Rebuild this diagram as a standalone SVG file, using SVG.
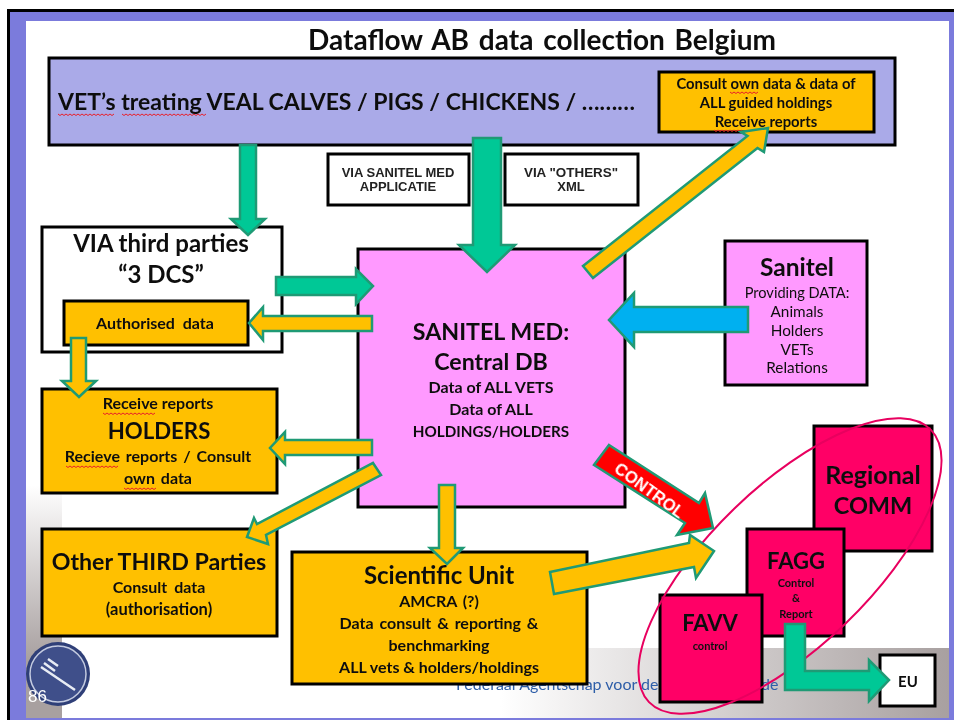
<svg xmlns="http://www.w3.org/2000/svg" width="954" height="720" viewBox="0 0 954 720">
<style>
text{font-family:Lato,"Open Sans","Liberation Sans",sans-serif;fill:#111;text-anchor:middle;font-weight:700;filter:url(#soft)}
.box{stroke:#000;stroke-width:3}
.o{fill:#ffc000}.p{fill:#ff99ff}.m{fill:#ff0066}.w{fill:#fff}
.s{font-size:16px}.b{font-size:24px}
.a{stroke:#1f9a75;stroke-width:2.5;stroke-linejoin:miter}
.g{fill:#00c896}
.sq{fill:none;stroke:#e8202a;stroke-width:1}
.v{font-family:"Liberation Sans",sans-serif;font-size:13px;fill:#222}
.r{font-size:15.300px;font-weight:400}
</style>
<defs>
<filter id="soft" x="-5%" y="-20%" width="110%" height="140%"><feGaussianBlur stdDeviation="0.35"/></filter>
<linearGradient id="gv" x1="0" y1="0" x2="0" y2="1"><stop offset="0" stop-color="#fff"/><stop offset="1" stop-color="#a8a0a0"/></linearGradient>
<linearGradient id="gh" x1="0" y1="0" x2="1" y2="0"><stop offset="0" stop-color="#fff"/><stop offset="1" stop-color="#a8a0a0"/></linearGradient>
</defs>
<rect width="954" height="720" fill="#fff"/>
<rect x="9" y="11" width="945" height="709" fill="#7b7bdc"/>
<path d="M8.500 720V10.500H954" fill="none" stroke="#000" stroke-width="3"/>
<rect x="26" y="21" width="923" height="697" fill="#fff"/>
<rect x="26" y="485" width="36" height="175" fill="url(#gv)"/>
<rect x="26" y="660" width="36" height="58" fill="#a8a0a0"/>
<rect x="500" y="648" width="449" height="70" fill="url(#gh)"/>
<g id="logo">
<circle cx="58" cy="674" r="32" fill="#2f3f78"/>
<circle cx="58" cy="674" r="28" fill="#3f4f8a" stroke="#c4cbe0" stroke-width="1.500"/>
<path d="M41 667L75 690M44 663L55 671M48 659L58 666" stroke="#e8ecf4" stroke-width="2.500" fill="none"/>
<text x="28" y="702" style="font-family:'Liberation Sans',sans-serif;font-size:17px;font-weight:400;fill:#fff;text-anchor:start">86</text>
</g>
<g id="footer">
<text x="456" y="690" style="font-size:16px;font-weight:400;fill:#2f5ea8;text-anchor:start">Federaal Agentschap voor de</text>
<text x="761" y="690" style="font-size:16px;font-weight:400;fill:#2f5ea8;text-anchor:start">de</text>
</g>
<text id="title" x="542" y="50" style="font-size:28px;word-spacing:3px">Dataflow AB data collection Belgium</text>
<g id="vets">
<rect class="box" x="49" y="58" width="846" height="87" fill="#aaaae8"/>
<text x="58" y="110" style="font-size:23px;text-anchor:start">VET’s treating VEAL CALVES / PIGS / CHICKENS / ………</text>
<path class="sq" d="M58 114l2 1.500 2-1.500 2 1.500 2-1.500 2 1.500 2-1.500 2 1.500 2-1.500 2 1.500 2-1.500 2 1.500 2-1.500 2 1.500 2-1.500 2 1.500 2-1.500 2 1.500 2-1.500 2 1.500 2-1.500 2 1.500 2-1.500 2 1.500 2-1.500 2 1.500 2-1.500 2 1.500 2-1.500M122 114l2 1.500 2-1.500 2 1.500 2-1.500 2 1.500 2-1.500 2 1.500 2-1.500 2 1.500 2-1.500 2 1.500 2-1.500 2 1.500 2-1.500 2 1.500 2-1.500 2 1.500 2-1.500 2 1.500 2-1.500 2 1.500 2-1.500 2 1.500 2-1.500 2 1.500 2-1.500 2 1.500 2-1.500 2 1.500 2-1.500 2 1.500 2-1.500 2 1.500 2-1.500 2 1.500 2-1.500 2 1.500 2-1.500 2 1.500 2-1.500 2 1.500 2-1.500"/>
</g>
<g id="consult">
<rect class="box o" x="659" y="72" width="215" height="60"/>
<text x="766" y="89" style="font-size:14.800px">Consult own data &amp; data of</text>
<text x="766" y="108" style="font-size:14.800px">ALL guided holdings</text>
<text x="766" y="127" style="font-size:14.800px">Receive reports</text>
<path class="sq" d="M730 92l2 1.500 2-1.500 2 1.500 2-1.500 2 1.500 2-1.500 2 1.500 2-1.500 2 1.500 2-1.500 2 1.500 2-1.500 2 1.500 2-1.500M714 130l2 1.500 2-1.500 2 1.500 2-1.500 2 1.500 2-1.500 2 1.500 2-1.500 2 1.500 2-1.500 2 1.500 2-1.500 2 1.500 2-1.500"/>
</g>
<g id="via-sanitel">
<rect class="box w" x="328" y="154" width="141" height="51"/>
<text class="v" x="398" y="177">VIA SANITEL MED</text><text class="v" x="398" y="191">APPLICATIE</text>
</g>
<g id="via-others">
<rect class="box w" x="505" y="154" width="133" height="51"/>
<text class="v" x="571" y="177" style="font-size:13.400px">VIA "OTHERS"</text><text class="v" x="571" y="191">XML</text>
</g>
<g id="third-parties">
<rect class="box w" x="42" y="227" width="240" height="125"/>
<text class="b" x="161" y="252">VIA third parties</text>
<text class="b" x="161" y="283">“3 DCS”</text>
</g>
<g id="authorised">
<rect class="box o" x="64" y="301" width="184" height="44"/>
<text class="s" x="155" y="329" style="word-spacing:4px">Authorised data</text>
</g>
<g id="central">
<rect class="box p" x="358" y="249" width="267" height="258"/>
<text x="491" y="340" style="font-size:23.200px">SANITEL MED:</text>
<text x="491" y="370" style="font-size:23.200px">Central DB</text>
<text class="s" x="491" y="393">Data of ALL VETS</text>
<text class="s" x="491" y="415">Data of ALL</text>
<text x="491" y="437" style="font-size:15.200px">HOLDINGS/HOLDERS</text>
</g>
<g id="sanitel">
<rect class="box p" x="725" y="241" width="142" height="144"/>
<text x="797" y="276" style="font-size:24.500px">Sanitel</text>
<text x="797" y="298" style="font-size:14.600px;font-weight:400">Providing DATA:</text>
<text class="r" x="797" y="317">Animals</text>
<text class="r" x="797" y="336">Holders</text>
<text class="r" x="797" y="355">VETs</text>
<text class="r" x="797" y="373">Relations</text>
</g>
<g id="holders">
<rect class="box o" x="42" y="389" width="235" height="104"/>
<text class="s" x="158" y="409">Receive reports</text>
<text x="159" y="439" style="font-size:22.200px">HOLDERS</text>
<text class="s" x="158" y="462" style="word-spacing:2px">Recieve reports / Consult</text>
<text class="s" x="158" y="484" style="word-spacing:2px">own data</text>
<path class="sq" d="M103 413l2 1.500 2-1.500 2 1.500 2-1.500 2 1.500 2-1.500 2 1.500 2-1.500 2 1.500 2-1.500 2 1.500 2-1.500 2 1.500 2-1.500 2 1.500 2-1.500 2 1.500 2-1.500 2 1.500 2-1.500 2 1.500 2-1.500 2 1.500 2-1.500 2 1.500 2-1.500M66 466l2 1.500 2-1.500 2 1.500 2-1.500 2 1.500 2-1.500 2 1.500 2-1.500 2 1.500 2-1.500 2 1.500 2-1.500 2 1.500 2-1.500 2 1.500 2-1.500 2 1.500 2-1.500 2 1.500 2-1.500 2 1.500 2-1.500 2 1.500 2-1.500 2 1.500 2-1.500M124 488l2 1.500 2-1.500 2 1.500 2-1.500 2 1.500 2-1.500 2 1.500 2-1.500 2 1.500 2-1.500 2 1.500 2-1.500 2 1.500 2-1.500 2 1.500 2-1.500"/>
</g>
<g id="other-third">
<rect class="box o" x="42" y="529" width="235" height="107"/>
<text x="159" y="570" style="font-size:23.200px">Other THIRD Parties</text>
<text class="s" x="159" y="593" style="word-spacing:3px">Consult data</text>
<text x="159" y="615" style="font-size:16.500px">(authorisation)</text>
</g>
<g id="scientific">
<rect class="box o" x="292" y="552" width="295" height="132"/>
<text x="439" y="584" style="font-size:24px">Scientific Unit</text>
<text class="s" x="439" y="607" style="word-spacing:2px">AMCRA (?)</text>
<text class="s" x="439" y="629" style="word-spacing:2px">Data consult &amp; reporting &amp;</text>
<text class="s" x="439" y="651">benchmarking</text>
<text class="s" x="439" y="673">ALL vets &amp; holders/holdings</text>
</g>
<g id="regional">
<rect class="box m" x="814" y="426" width="118" height="125"/>
<text x="873" y="484" style="font-size:25px">Regional</text>
<text x="873" y="514" style="font-size:23.500px">COMM</text>
</g>
<g id="fagg">
<rect class="box m" x="747" y="529" width="97" height="107"/>
<text x="796" y="569" style="font-size:22px">FAGG</text>
<text x="796" y="587" style="font-size:11px">Control</text>
<text x="796" y="602" style="font-size:11px">&amp;</text>
<text x="796" y="618" style="font-size:11px">Report</text>
</g>
<g id="favv">
<rect class="box m" x="660" y="595" width="102" height="107"/>
<text x="710" y="631" style="font-size:22px">FAVV</text>
<text x="710" y="650" style="font-size:11px">control</text>
</g>
<g id="eu">
<rect class="box w" x="880" y="655" width="55" height="51"/>
<text x="908" y="687" style="font-size:15px">EU</text>
</g>
<ellipse id="group-ring" cx="790" cy="566" rx="196" ry="80" transform="rotate(-44 790 566)" fill="none" stroke="#e8005f" stroke-width="2"/>
<g id="connectors">
<polygon class="a g" points="240,145 256,145 256,219 265,219 248,235 231,219 240,219"/>
<polygon class="a g" points="473,138 501,138 501,245 515,245 487,272 459,245 473,245"/>
<polygon class="a g" points="276,277 356,277 356,269 373,286 356,304 356,295 276,295"/>
<polygon class="a o" points="372,316 263,316 263,307 249,323 263,340 263,331 372,331"/>
<polygon class="a o" points="71,338 86,338 86,381 96,381 79,397 62,381 71,381"/>
<polygon class="a o" points="372,440 285,440 285,432 270,448 285,464 285,455 372,455"/>
<polygon class="a o" points="373,463 381,475 266,535 268,544 247,537 254,518 257,524"/>
<polygon class="a o" points="439,485 455,485 455,548 463,548 447,564 430,548 439,548"/>
<polygon class="a o" points="583,266 747.500,136 741,132 768,128 764,152 757.500,148 593,278"/>
<polygon class="a" fill="#00b0f0" points="748,307 634,307 634,293 609,320 634,347 634,332 748,332"/>
<polygon class="a" fill="#f00" points="609,445 699,503 705,493 713,528 677,535 685,523 594,465"/>
<text transform="translate(646 495) rotate(36)" style="font-family:'Liberation Sans',sans-serif;font-size:16.500px;fill:#fff;text-anchor:middle;font-weight:700">CONTROL</text>
<polygon class="a o" points="550,572 689,543 690,535 714,551 696,578 694,567 554,594"/>
<polygon class="a g" points="785,624 805,624 805,671 869,671 869,660 889,680 869,701 869,690 785,690"/>
</g>
</svg>
